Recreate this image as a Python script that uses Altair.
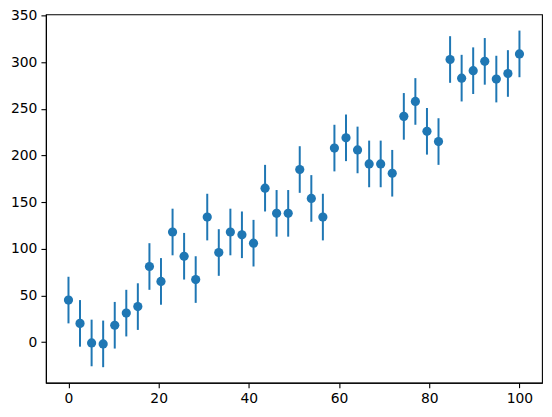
import altair as alt
import pandas as pd

x_vals = [0, 2.56, 5.13, 7.69, 10.26, 12.82, 15.38, 17.95, 20.51, 23.08,
          25.64, 28.21, 30.77, 33.33, 35.90, 38.46, 41.03, 43.59, 46.15, 48.72,
          51.28, 53.85, 56.41, 58.97, 61.54, 64.10, 66.67, 69.23, 71.79, 74.36,
          76.92, 79.49, 82.05, 84.62, 87.18, 89.74, 92.31, 94.87, 97.44, 100]
y_vals = [45, 20, -1, -2, 18, 31, 38, 81, 65, 118,
          92, 67, 134, 96, 118, 115, 106, 165, 138, 138,
          185, 154, 134, 208, 219, 206, 191, 191, 181, 242,
          258, 226, 215, 303, 283, 291, 301, 282, 288, 309]
err_vals = [25] * 40

x_ticks = [0, 20, 40, 60, 80, 100]
y_ticks = [0, 50, 100, 150, 200, 250, 300, 350]

df = pd.DataFrame({"x": x_vals, "y": y_vals, "err": err_vals})
df["lo"] = df["y"] - df["err"]
df["hi"] = df["y"] + df["err"]

color = "#1f77b4"
xs = alt.Scale(domain=[-5, 105], nice=False, zero=False)
ys = alt.Scale(domain=[-43.6, 351.4], nice=False, zero=False)

xax = alt.Axis(values=x_ticks, title=None, grid=False)
yax = alt.Axis(values=y_ticks, title=None, grid=False)

base = alt.Chart(df)
bars = base.mark_rule(color=color, strokeWidth=2).encode(
    x=alt.X("x:Q", scale=xs, axis=xax),
    y=alt.Y("lo:Q", scale=ys, axis=yax),
    y2="hi:Q",
)
pts = base.mark_point(filled=True, color=color, size=85, opacity=1).encode(
    x=alt.X("x:Q", scale=xs),
    y=alt.Y("y:Q", scale=ys),
)

chart = (
    alt.layer(bars, pts)
    .properties(
        width=497,
        height=369,
        autosize=alt.AutoSizeParams(type="none"),
        padding={"left": 38, "top": 6, "right": 2, "bottom": 30},
    )
    .configure_view(stroke="black", strokeWidth=1.1)
    .configure_axis(
        domainColor="black",
        domainWidth=1.1,
        tickColor="black",
        tickWidth=1.1,
        tickSize=5,
        labelColor="black",
        labelFont="DejaVu Sans",
        labelFontSize=13.9,
        labelPadding=4,
    )
)

chart.save("out.html", embed_options={"renderer": "svg", "actions": False})
